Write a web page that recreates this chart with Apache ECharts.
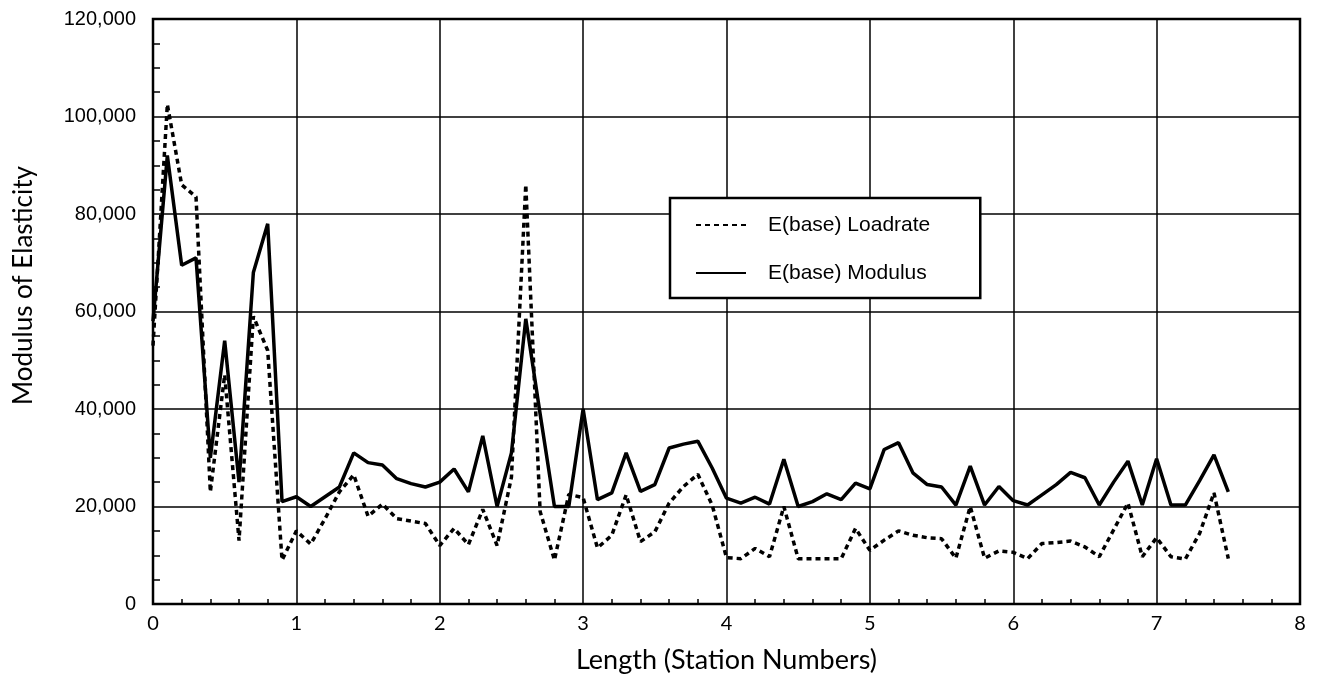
<!DOCTYPE html>
<html>
<head>
<meta charset="utf-8">
<title>Modulus of Elasticity</title>
<script src="https://cdn.jsdelivr.net/npm/echarts@6/dist/echarts.min.js"></script>
<style>
  html, body { margin: 0; padding: 0; background: #fff; }
  #chart { width: 1317px; height: 681px; }
</style>
</head>
<body>
<div id="chart"></div>
<script>
// Station positions along the section (station numbers)
const stations = [
  0.0, 0.1, 0.2, 0.3, 0.4, 0.5, 0.6, 0.7, 0.8, 0.9,
  1.0, 1.1, 1.2, 1.3, 1.4, 1.5, 1.6, 1.7, 1.8, 1.9,
  2.0, 2.1, 2.2, 2.3, 2.4, 2.5, 2.6, 2.7, 2.8, 2.9,
  3.0, 3.1, 3.2, 3.3, 3.4, 3.5, 3.6, 3.7, 3.8, 3.9,
  4.0, 4.1, 4.2, 4.3, 4.4, 4.5, 4.6, 4.7, 4.8, 4.9,
  5.0, 5.1, 5.2, 5.3, 5.4, 5.5, 5.6, 5.7, 5.8, 5.9,
  6.0, 6.1, 6.2, 6.3, 6.4, 6.5, 6.6, 6.7, 6.8, 6.9,
  7.0, 7.1, 7.2, 7.3, 7.4, 7.5
];

// E(base) from load-rate backcalculation
const loadrate = [
  53000, 102500, 86000, 83500, 23000, 47000, 13000, 59000, 52000, 9000,
  15000, 12300, 17500, 23000, 26500, 18000, 20500, 17500, 17000, 16500,
  12000, 15500, 12200, 19400, 12000, 26000, 86000, 19000, 9000, 22500,
  21800, 11500, 14100, 22400, 12800, 14800, 20700, 24100, 26600, 20300,
  9500, 9300, 11400, 9700, 20000, 9300, 9300, 9300, 9300, 15500,
  11000, 13100, 15000, 14100, 13600, 13400, 9400, 20000, 9400, 10900,
  10600, 9300, 12400, 12600, 12900, 11700, 9700, 15200, 20700, 9700,
  13600, 9700, 9200, 14500, 22800, 9300
];

// E(base) from modulus backcalculation
const modulus = [
  58000, 92000, 69500, 71000, 30000, 54000, 25000, 68000, 78000, 21000,
  22000, 20000, 22000, 24000, 31000, 29000, 28500, 25700, 24700, 24000,
  25000, 27700, 23000, 34500, 20000, 31000, 58500, 39000, 20000, 20000,
  40000, 21400, 22800, 31000, 23100, 24500, 32000, 32800, 33400, 27900,
  21700, 20700, 21900, 20500, 29700, 20000, 21000, 22600, 21400, 24800,
  23600, 31700, 33100, 26900, 24500, 24000, 20300, 28300, 20300, 24100,
  21200, 20300, 22400, 24500, 27000, 25900, 20300, 25000, 29300, 20300,
  29800, 20300, 20300, 25300, 30600, 23000
];

const seriesNames = ['E(base) Loadrate', 'E(base) Modulus'];

const pairs = (ys) => stations.map((x, i) => [x, ys[i]]);

const chart = echarts.init(document.getElementById('chart'), null, { renderer: 'canvas' });

const ink = '#000';

chart.setOption({
  backgroundColor: '#fff',
  animation: false,
  grid: {
    left: 153, right: 17, top: 19, bottom: 77,
    show: true, borderColor: ink, borderWidth: 2.5, backgroundColor: 'transparent'
  },
  legend: {
    orient: 'vertical',
    left: 670, top: 198,
    data: seriesNames,
    backgroundColor: '#fff',
    borderColor: ink, borderWidth: 2.5, borderRadius: 0,
    padding: [15, 50, 13, 25],
    itemWidth: 50, itemHeight: 14,
    itemGap: 24,
    itemStyle: { opacity: 0 },
    textStyle: {
      fontFamily: 'Liberation Sans', fontSize: 21, color: ink,
      lineHeight: 24, padding: [0, 0, 0, 17]
    }
  },
  xAxis: {
    type: 'value',
    min: 0, max: 8, interval: 1,
    name: 'Length (Station Numbers)',
    nameLocation: 'middle', nameGap: 43,
    nameTextStyle: { fontFamily: 'Lato', fontSize: 27, color: ink },
    axisLine: { show: false },
    axisTick: { show: false },
    // negative length turns the minor ticks into the plot area
    minorTick: { show: true, splitNumber: 5, length: -5, lineStyle: { color: ink, width: 1.5 } },
    axisLabel: { fontFamily: 'Lato', fontSize: 20, color: ink, margin: 10 },
    splitLine: { show: true, lineStyle: { color: ink, width: 1.5 } }
  },
  yAxis: {
    type: 'value',
    min: 0, max: 120000, interval: 20000,
    name: 'Modulus of Elasticity',
    nameLocation: 'middle', nameGap: 116,
    nameTextStyle: { fontFamily: 'Lato', fontSize: 26, color: ink, padding: [0, 0, 0, 52] },
    axisLine: { show: false },
    axisTick: { show: false },
    minorTick: { show: true, splitNumber: 4, length: -7, lineStyle: { color: ink, width: 1.5 } },
    axisLabel: {
      fontFamily: 'Liberation Sans', fontSize: 20, color: ink, margin: 17,
      formatter: (v) => v.toLocaleString('en-US')
    },
    splitLine: { show: true, lineStyle: { color: ink, width: 1.5 } }
  },
  series: [
    {
      name: seriesNames[0],
      type: 'line',
      data: pairs(loadrate),
      symbol: 'none',
      lineStyle: { color: ink, width: 3.5, type: [5, 4] },
      itemStyle: { color: ink },
      z: 3
    },
    {
      name: seriesNames[1],
      type: 'line',
      data: pairs(modulus),
      symbol: 'none',
      lineStyle: { color: ink, width: 3.5, type: 'solid' },
      itemStyle: { color: ink },
      z: 4
    }
  ]
});
</script>
</body>
</html>
